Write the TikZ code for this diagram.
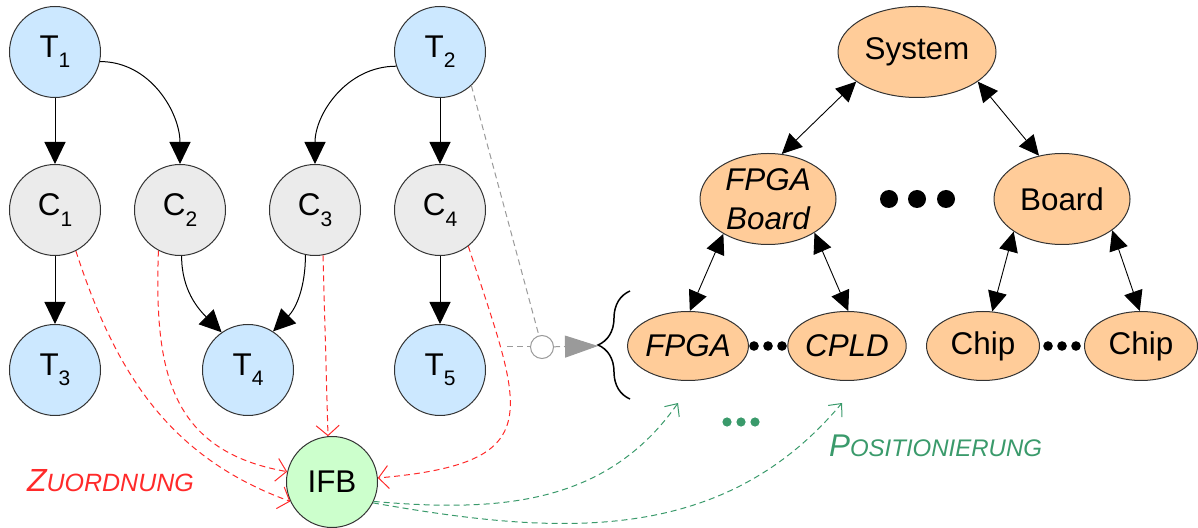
\documentclass[tikz,border=0pt]{standalone}
\usepackage{fontspec}
\setmainfont{Liberation Sans}
\usetikzlibrary{arrows.meta,positioning,shapes.geometric,decorations.pathreplacing}
\definecolor{taskblue}{HTML}{CCE8FF}
\definecolor{clustergray}{HTML}{EBEBEB}
\definecolor{ifbgreen}{HTML}{CCFFCC}
\definecolor{levelorange}{HTML}{FFCC99}
\definecolor{mapred}{HTML}{FF2A2A}
\definecolor{placegreen}{HTML}{3A9A6B}
\definecolor{hintgray}{HTML}{9A9A9A}
\newcommand{\lowidx}[1]{\raisebox{-.33em}{\fontsize{10.5}{12}\selectfont #1}}
\tikzset{
  task/.style={draw=black!80,fill=taskblue,circle,minimum size=45.5pt,inner sep=0pt,line width=.5pt},
  cluster/.style={task,fill=clustergray},
  ifb/.style={task,fill=ifbgreen},
  level/.style={draw=black!80,fill=levelorange,ellipse,inner sep=0pt,line width=.5pt,minimum width=56.5pt,minimum height=34.5pt},
  biglevel/.style={level,minimum width=68pt,minimum height=45.5pt},
  flow/.style={-{Triangle[length=11pt,width=10.5pt]},line width=.5pt,draw=black},
  biflow/.style={{Triangle[length=10pt,width=9.5pt]}-{Triangle[length=10pt,width=9.5pt]},line width=.45pt},
  mapflow/.style={-{Straight Barb[length=5pt,width=11.5pt]},draw=mapred,dash pattern=on 3pt off 2pt,line width=.5pt},
  placeflow/.style={-{Straight Barb[length=5pt,width=9pt]},draw=placegreen,dash pattern=on 3pt off 2pt,line width=.5pt},
  hint/.style={draw=hintgray,dash pattern=on 3pt off 2pt,line width=.5pt},
}
\begin{document}
\begin{tikzpicture}[x=.5pt,y=.5pt,font=\fontsize{15.7}{19.5}\selectfont]
		\useasboundingbox (0,0) rectangle (1198,-528);
		
		\node[task] (T1) at (55,-52) {T\lowidx{1}};
		\node[task] (T2) at (440,-52) {T\lowidx{2}};
		
		\node[cluster] (C1) at (55,-210) {C\lowidx{1}};
		\node[cluster] (C2) at (180,-210) {C\lowidx{2}};
		\node[cluster] (C3) at (315,-210) {C\lowidx{3}};
		\node[cluster] (C4) at (440,-210) {C\lowidx{4}};
		
		\node[task] (T3) at (55,-370) {T\lowidx{3}};
		\node[task] (T4) at (248,-370) {T\lowidx{4}};
		\node[task] (T5) at (440,-370) {T\lowidx{5}};
		
		\node[ifb] (IFB) at (332,-482) {IFB};
		
		\draw[flow] (T1)--(C1);
		\draw[flow] (T1.-12) to[out=0,in=90] (C2.north);
		\draw[flow] (T2.198) to[out=180,in=90] (C3.north);
		\draw[flow] (T2)--(C4);
		\draw[flow] (C1)--(T3);
		\draw[flow] (C2.-88) to[out=-90,in=135] (T4.125);
		\draw[flow] (C3.-102) to[out=-90,in=45] (T4.57);
		\draw[flow] (C4)--(T5);
		
		\draw[mapflow] (C1.-63) to[out=-72,in=160] (IFB.205);
		\draw[mapflow] (C2.242) to[out=-92,in=170,looseness=1.2] (IFB.167);
		\draw[mapflow] (C3.-80) -- (IFB.95);
		\draw[mapflow] (C4.-52) to[out=-72,in=5,looseness=1.8] (IFB.5);
		
		\node[anchor=base west,text=mapred,font=\fontsize{16}{18}\selectfont\itshape] (zuordnung) at (20,-492)
		{Z\fontsize{12.5}{14}\selectfont UORDNUNG};
		
		\node[biglevel,minimum width=79pt] (system) at (917,-52) {System};
		
		\node[biglevel,align=center,font=\fontsize{15.7}{19.5}\selectfont\itshape] (fpgaboard) at (768,-199) {FPGA\\Board};
		\node[biglevel] (board) at (1062,-199) {Board};
		
		\node[level,font=\fontsize{15.7}{19.5}\selectfont\itshape] (fpga) at (688,-346) {FPGA};
		\node[level,font=\fontsize{15.7}{19.5}\selectfont\itshape] (cpld) at (847,-346) {CPLD};
		\node[level] (chipa) at (983,-346) {Chip};
		\node[level] (chipb) at (1141,-346) {Chip};
		
		\draw[biflow] (system.206)--(fpgaboard.73);
		\draw[biflow] (system.-26)--(board.118);
		\draw[biflow] (fpgaboard.218)--(fpga.87);
		\draw[biflow] (fpgaboard.-36)--(cpld.88);
		\draw[biflow] (board.214)--(chipa.75);
		\draw[biflow] (board.-32)--(chipb.92);
		
		\foreach \x in {889,917,946} \fill (\x,-199) circle[radius=4.5pt];
		\foreach \x in {754,768,782,1048,1062,1076} \fill (\x,-346) circle[radius=2.4pt];
		\foreach \x in {727,741,755} \fill[placegreen] (\x,-422) circle[radius=2.3pt];
		
		\coordinate (bracelow) at (630,-399);
		\coordinate (bracehigh) at (630,-291);
		\coordinate (bracetip) at (598,-346);
		\draw[decorate,decoration={brace,amplitude=16pt},line width=.75pt] (bracelow)--(bracehigh);
		
		\coordinate (hintsrc) at (507,-347);
		\node[draw=hintgray,fill=white,circle,minimum size=11.5pt,inner sep=0pt,line width=.5pt] (junc) at (542,-347) {};
		\draw[hint] (T2.-47)--(junc);
		\draw[hint] (hintsrc)--(junc);
		\draw[hint,-{Triangle[length=16.5pt,width=11pt,fill=hintgray]}] (junc)--(bracetip);
		
		\coordinate (fpgaslot) at (678,-403);
		\coordinate (cpldslot) at (842,-403);
		\draw[placeflow] (IFB.-25) to[out=-5,in=235] (fpgaslot);
		\draw[placeflow] (IFB.-27) to[out=-10,in=230] (cpldslot);
		
		\node[anchor=base west,text=placegreen,font=\fontsize{15.7}{18}\selectfont\itshape] (positionierung) at (822,-457)
		{P\fontsize{12}{14}\selectfont OSITIONIERUNG};
	\end{tikzpicture}
\end{document}
